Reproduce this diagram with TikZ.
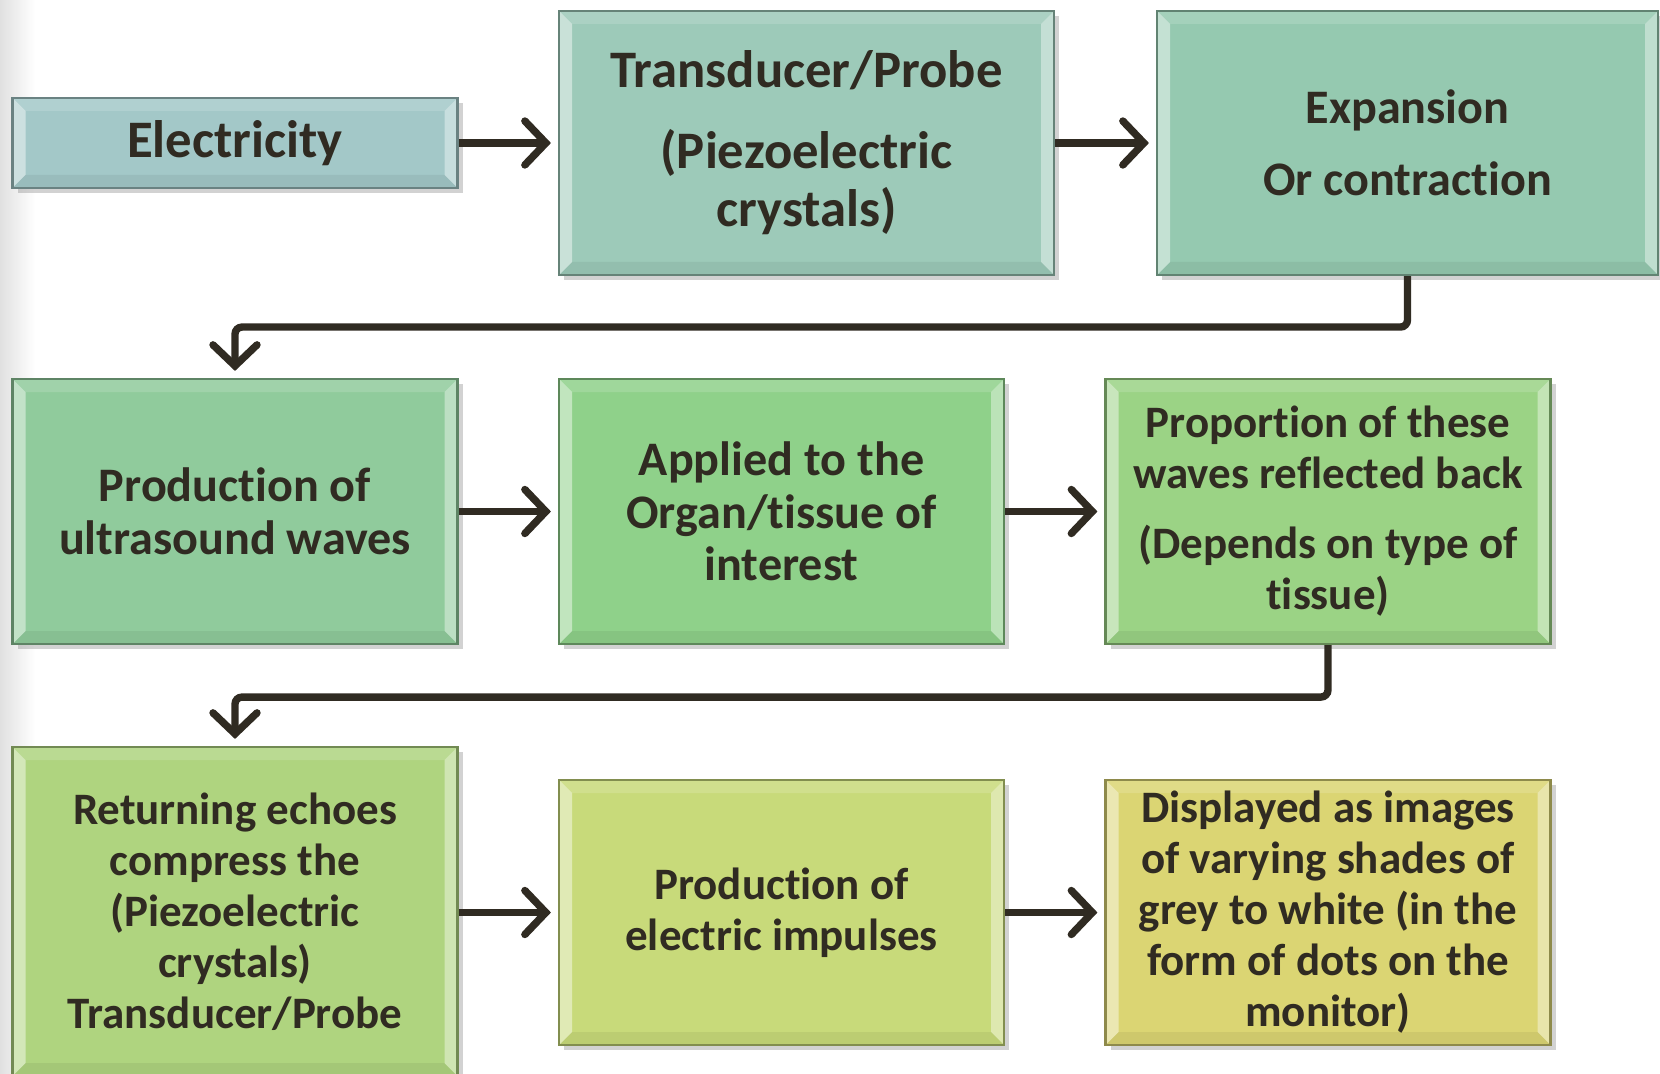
\documentclass[tikz,border=0pt]{standalone}
\usepackage{fontspec}
\setmainfont{Carlito}[Ligatures={NoCommon,NoContextual,NoRare}, Contextuals=NoAlternate]
\usetikzlibrary{arrows.meta,shadows}

\definecolor{inkdark}{HTML}{302B22}
\definecolor{celec}{HTML}{A3C8C8}
\definecolor{cprobe}{HTML}{9DCAB9}
\definecolor{cexpand}{HTML}{95C9B0}
\definecolor{cwaves}{HTML}{90CB9C}
\definecolor{capplied}{HTML}{8FD18A}
\definecolor{creflect}{HTML}{9BD385}
\definecolor{cechoes}{HTML}{AFD47F}
\definecolor{cimpulse}{HTML}{C8DA7A}
\definecolor{cdisplay}{HTML}{DBD573}

% keep t and i apart
\newcommand{\tsep}{t\kern0pt i}

\def\bw{0.13cm}
\tikzset{
  bevel/.style={path picture={
    \fill[white,opacity=.45] (path picture bounding box.south west) -- (path picture bounding box.north west)
      -- ([shift={(\bw,-\bw)}]path picture bounding box.north west) -- ([shift={(\bw,\bw)}]path picture bounding box.south west) -- cycle;
    \fill[white,opacity=.15] (path picture bounding box.north west) -- (path picture bounding box.north east)
      -- ([shift={(-\bw,-\bw)}]path picture bounding box.north east) -- ([shift={(\bw,-\bw)}]path picture bounding box.north west) -- cycle;
    \fill[white,opacity=.4] (path picture bounding box.north east) -- (path picture bounding box.south east)
      -- ([shift={(-\bw,\bw)}]path picture bounding box.south east) -- ([shift={(-\bw,-\bw)}]path picture bounding box.north east) -- cycle;
    \fill[black,opacity=.06] (path picture bounding box.south east) -- (path picture bounding box.south west)
      -- ([shift={(\bw,\bw)}]path picture bounding box.south west) -- ([shift={(-\bw,\bw)}]path picture bounding box.south east) -- cycle;
  }},
  stage/.style={rectangle, fill=#1, draw=#1!65!black, line width=0.6pt, bevel,
    drop shadow={shadow xshift=0.05cm, shadow yshift=-0.05cm, opacity=0.35},
    text=inkdark, align=center, inner sep=0pt, minimum width=4.45cm, minimum height=2.65cm,
    font=\bfseries\fontsize{12.8}{14.5}\selectfont},
  bigtext/.style={font=\bfseries\fontsize{15}{16.5}\selectfont},
  midtext/.style={font=\bfseries\fontsize{13.7}{15}\selectfont},
  flow/.style={draw=inkdark, line width=2.1pt, rounded corners=2pt, shorten >=0.07cm,
    -{Straight Barb[length=0.21cm, width=0.44cm, line cap=round]}}
}

\begin{document}
\begin{tikzpicture}
  \clip (0,0) rectangle (16.6,-10.74);
  \useasboundingbox (0,0) rectangle (16.6,-10.74);
  \fill[white] (0,0) rectangle (16.6,-10.74);
  \fill[left color=black!12, right color=white] (0,0) rectangle (0.35,-10.74);

  % first row
  \node[stage=celec, bigtext, minimum height=0.9cm] (elec) at (2.35,-1.43) {Electricity};
  \node[stage=cprobe, bigtext, minimum width=4.95cm, minimum height=2.64cm] (probe) at (8.065,-1.43)
    {Transducer/Probe\\[6.5pt](Piezoelectric\\crystals)};
  \node[stage=cexpand, midtext, minimum width=5.01cm, minimum height=2.64cm] (expand) at (14.075,-1.43)
    {Expansion\\[5.5pt]Or contrac\tsep on};

  % second row
  \node[stage=cwaves, midtext] (waves) at (2.35,-5.115) {Production of\\ultrasound waves};
  \node[stage=capplied, midtext] (applied) at (7.815,-5.115) {Applied to the\\Organ/\tsep ssue of\\interest};
  \node[stage=creflect] (reflect) at (13.28,-5.115)
    {Proportion of these\\waves reflected back\\[5.4pt](Depends on type of\\\tsep ssue)};

  % third row
  \node[stage=cechoes, minimum height=3.29cm] (echoes) at (2.35,-9.115)
    {Returning echoes\\compress the\\(Piezoelectric\\crystals)\\Transducer/Probe};
  \node[stage=cimpulse] (impulse) at (7.815,-9.125) {Production of\\electric impulses};
  \node[stage=cdisplay] (display) at (13.28,-9.125)
    {Displayed as images\\of varying shades of\\grey to white (in the\\form of dots on the\\monitor)};

  \draw[flow] (elec.east) -- (elec.east -| probe.west);
  \draw[flow] (probe.east) -- (probe.east -| expand.west);
  \draw[flow] (expand.south) -- ++(0,-0.51) -| (waves.north);
  \draw[flow] (waves.east) -- (applied.west);
  \draw[flow] (applied.east) -- (reflect.west);
  \draw[flow] (reflect.south) -- ++(0,-0.52) -| (echoes.north);
  \draw[flow] (echoes.east |- impulse.west) -- (impulse.west);
  \draw[flow] (impulse.east) -- (display.west);
\end{tikzpicture}
\end{document}
